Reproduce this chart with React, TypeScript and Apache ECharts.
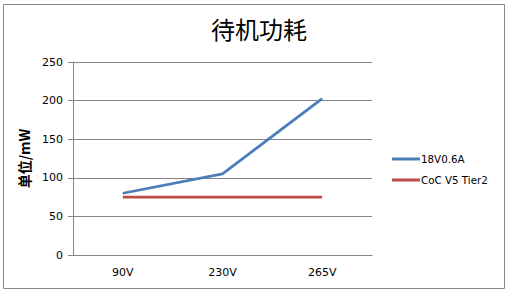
import React, { useEffect, useRef } from "react";
import * as echarts from "echarts";

const categories = ["90V", "230V", "265V"];
const seriesA = [80, 105, 202.5];
const seriesB = [75, 75, 75];
const seriesNames = ["18V0.6A", "CoC V5 Tier2"];
const titleText = "待机功耗";
const yName = "单位/mW";

export default function App() {
  const ref = useRef<HTMLDivElement>(null);
  useEffect(() => {
    const chart = echarts.init(ref.current!, null, { renderer: "svg" });
    chart.setOption({
      animation: false,
      backgroundColor: "#fff",
      title: {
        text: titleText,
        left: 254,
        top: 11,
        textAlign: "center",
        textStyle: { fontFamily: "Noto Sans CJK SC", fontSize: 24, fontWeight: "normal", color: "#000" },
      },
      graphic: [
        {
          type: "rect",
          shape: { x: 3.5, y: 4.5, width: 501, height: 284 },
          style: { fill: "none", stroke: "#888", lineWidth: 1 },
          silent: true,
        },
      ],
      legend: {
        orient: "vertical",
        left: 387,
        top: 149,
        itemWidth: 28,
        itemHeight: 3,
        itemGap: 11,
        icon: "rect",
        textStyle: { fontFamily: "DejaVu Sans", fontSize: 10.3, color: "#000", padding: [0, 0, 0, -4] },
        data: seriesNames,
      },
      grid: { left: 73, top: 62, width: 299, height: 193, containLabel: false },
      xAxis: {
        type: "category",
        data: categories,
        boundaryGap: true,
        axisLine: { lineStyle: { color: "#868686" } },
        axisTick: { show: false },
        axisLabel: { fontFamily: "DejaVu Sans", fontSize: 11, color: "#000", margin: 12 },
      },
      yAxis: {
        type: "value",
        min: 0,
        max: 250,
        interval: 50,
        name: yName,
        nameLocation: "middle",
        nameGap: 38,
        nameRotate: 90,
        nameTextStyle: { fontFamily: "Noto Sans CJK SC", fontSize: 14, fontWeight: "bold", color: "#000" },
        axisLine: { show: true, lineStyle: { color: "#868686" } },
        axisTick: { show: true, length: 5, lineStyle: { color: "#868686" } },
        splitLine: { lineStyle: { color: "#868686" } },
        axisLabel: { fontFamily: "DejaVu Sans", fontSize: 11, color: "#000", margin: 10 },
      },
      series: [
        {
          name: seriesNames[0],
          type: "line",
          data: seriesA,
          symbol: "none",
          lineStyle: { width: 2.75, color: "#4A7EBB" },
          itemStyle: { color: "#4A7EBB" },
        },
        {
          name: seriesNames[1],
          type: "line",
          data: seriesB,
          symbol: "none",
          lineStyle: { width: 2.75, color: "#BE4B48" },
          itemStyle: { color: "#BE4B48" },
        },
      ],
    });
    return () => chart.dispose();
  }, []);
  return (
    <div
      ref={ref}
      style={{ position: "fixed", left: 0, top: 0, width: 509, height: 293 }}
    />
  );
}
